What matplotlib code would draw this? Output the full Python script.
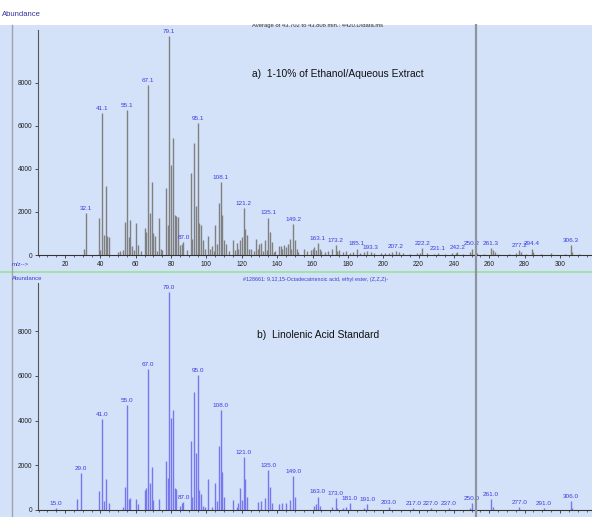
import matplotlib
matplotlib.use('Agg')
import matplotlib.pyplot as plt
from matplotlib.patches import Rectangle
from matplotlib.lines import Line2D
from matplotlib.ticker import MultipleLocator

plt.rcParams['font.family'] = ['Liberation Sans', 'DejaVu Sans']

W, H = 592, 517
BG, PEAK_A, PEAK_B, LAB = '#D4E2F9', '#808080', '#7878EC', '#3C3CE0'

# ---- panel a) extract spectrum: m/z and abundance ----
mz_a = [31, 32, 39, 40, 41, 42, 43, 44, 45, 50, 51, 53, 54, 55, 56, 57, 58, 59, 60, 61, 63,
        65, 66, 67, 68, 69, 70, 71, 72, 73, 74, 75, 77, 78, 79, 80, 81, 82, 83, 84, 85, 86, 87,
        89, 91, 92, 93, 94, 95, 96, 97, 98, 99, 101, 102, 103, 104, 105, 106, 107, 108, 109,
        110, 111, 113, 115, 116, 117, 118, 119, 120, 121, 122, 123, 124, 125, 127, 128, 129,
        130, 131, 132, 133, 134, 135, 136, 137, 138, 139, 141, 142, 143, 144, 145, 146, 147,
        148, 149, 150, 151, 152, 155, 157, 159, 160, 161, 162, 163, 164, 165, 167, 169, 171,
        173, 174, 175, 177, 179, 181, 183, 185, 187, 189, 191, 193, 195, 199, 201, 203, 205,
        207, 209, 211, 215, 219, 221, 222, 225, 229, 231, 235, 239, 241, 242, 245, 249, 250,
        253, 257, 261, 262, 263, 265, 271, 275, 277, 278, 281, 284, 285, 289, 295, 303, 306,
        307, 311]
ab_a = [300, 1950, 1700, 250, 6600, 930, 3200, 900, 850, 150, 200, 250, 1550, 6740, 850, 1630,
        400, 250, 1500, 450, 200, 1250, 1050, 7900, 1950, 3400, 1000, 900, 200, 1700, 300, 250,
        3100, 1400, 10200, 4200, 5450, 1850, 1800, 1750, 450, 500, 600, 250, 3800, 750, 5200,
        2300, 6150, 1500, 1400, 700, 300, 900, 300, 400, 200, 1400, 500, 2400, 3400, 1850, 700,
        500, 200, 700, 250, 550, 300, 700, 850, 2200, 1200, 950, 300, 300, 200, 750, 300, 500,
        550, 200, 700, 250, 1740, 1050, 600, 150, 200, 400, 400, 300, 450, 350, 500, 750, 300,
        1430, 700, 300, 150, 300, 200, 250, 300, 350, 250, 540, 300, 200, 150, 200, 300, 470,
        200, 250, 150, 200, 100, 150, 300, 100, 120, 200, 150, 100, 80, 100, 80, 120, 200, 150,
        80, 60, 80, 100, 330, 80, 60, 100, 60, 80, 100, 150, 60, 150, 300, 80, 60, 330, 250,
        150, 60, 60, 100, 230, 150, 60, 300, 150, 60, 80, 60, 460, 150, 60]
lab_a_mz = [32, 41, 55, 67, 79, 87, 95, 108, 121, 135, 149, 163, 173, 185, 193, 207, 222, 231,
            242, 250, 261, 277, 284, 306]
lab_a_txt = ['32.1', '41.1', '55.1', '67.1', '79.1', '87.0', '95.1', '108.1', '121.2', '135.1',
             '149.2', '163.1', '173.2', '185.1', '193.3', '207.2', '222.2', '231.1', '242.2',
             '250.2', '261.3', '277.2', '294.4', '306.3']

# ---- panel b) linolenic acid ethyl ester library spectrum ----
mz_b = [15, 27, 29, 39, 41, 42, 43, 45, 53, 54, 55, 56, 57, 60, 61, 65, 66, 67, 68, 69, 70, 73,
        77, 78, 79, 80, 81, 82, 83, 85, 86, 87, 91, 92, 93, 94, 95, 96, 97, 98, 99, 101, 103,
        105, 106, 107, 108, 109, 110, 115, 117, 118, 119, 120, 121, 122, 123, 129, 131, 133,
        135, 136, 137, 141, 143, 145, 147, 149, 150, 161, 162, 163, 164, 171, 173, 174, 177,
        179, 181, 189, 191, 203, 217, 227, 237, 249, 250, 261, 262, 277, 291, 306, 307]
ab_b = [100, 480, 1640, 870, 4050, 400, 1390, 330, 150, 1040, 4690, 500, 530, 500, 250, 890,
        1000, 6290, 1220, 1940, 450, 500, 2200, 1420, 9760, 4100, 4470, 970, 950, 200, 300, 350,
        3080, 600, 5290, 2530, 6030, 880, 700, 200, 150, 1370, 150, 1190, 400, 2860, 4470, 1710,
        600, 450, 150, 300, 970, 450, 2380, 1370, 600, 350, 400, 550, 1790, 1040, 300, 250, 300,
        300, 450, 1530, 600, 200, 250, 600, 200, 150, 520, 100, 100, 150, 300, 100, 270, 150,
        100, 80, 80, 100, 300, 490, 150, 150, 80, 420, 100]
lab_b_mz = [15, 29, 41, 55, 67, 79, 87, 95, 108, 121, 135, 149, 163, 173, 181, 191, 203, 217,
            227, 237, 250, 261, 277, 291, 306]
lab_b_txt = ['15.0', '29.0', '41.0', '55.0', '67.0', '79.0', '87.0', '95.0', '108.0', '121.0',
             '135.0', '149.0', '163.0', '173.0', '181.0', '191.0', '203.0', '217.0', '227.0',
             '237.0', '250.0', '261.0', '277.0', '291.0', '306.0']

XMIN, XMAX = 4.7, 318.1


def px(x0, y0, w, h):
    """axes rect from pixel box (top-left origin)"""
    return [x0 / W, 1 - (y0 + h) / H, w / W, h / H]


def style(ax, ymax):
    ax.set_facecolor('none')
    ax.set_xlim(XMIN, XMAX); ax.set_ylim(0, ymax)
    for s in ('top', 'right'):
        ax.spines[s].set_visible(False)
    ax.spines['left'].set_color('#555555'); ax.spines['bottom'].set_color('#333333')
    ax.spines['left'].set_linewidth(0.8); ax.spines['bottom'].set_linewidth(0.8)
    ax.xaxis.set_major_locator(MultipleLocator(20)); ax.xaxis.set_minor_locator(MultipleLocator(5))
    ax.set_yticks([0, 2000, 4000, 6000, 8000])
    ax.tick_params(axis='both', which='major', labelsize=4.8, length=2.5, width=0.6,
                   color='#333333', pad=1.5, labelcolor='#222222')
    ax.tick_params(axis='x', which='minor', length=1.5, width=0.5, color='#333333')


fig = plt.figure(figsize=(W / 100, H / 100), dpi=100)
fig.patch.set_facecolor('white')
fig.patches.append(Rectangle((0, 0), 1, 1 - 25 / H, transform=fig.transFigure,
                             facecolor=BG, edgecolor='none', zorder=-5))

ax1 = fig.add_axes(px(38, 30, 554, 225))
style(ax1, 10460)
ax1.vlines(mz_a, 0, ab_a, colors=PEAK_A, lw=1.0)
for m, t in zip(lab_a_mz, lab_a_txt):
    ax1.annotate(t, (m, ab_a[mz_a.index(m)]), xytext=(0, 1.5), textcoords='offset points',
                 ha='center', va='bottom', fontsize=4.6, color=LAB)
ax1.text(0.387, 0.805, 'a)  1-10% of Ethanol/Aqueous Extract', transform=ax1.transAxes,
         fontsize=7.4, color='#111111', va='center', ha='left')

ax2 = fig.add_axes(px(38, 283, 554, 227))
style(ax2, 10150)
ax2.tick_params(axis='x', labelbottom=False)
ax2.vlines(mz_b, 0, ab_b, colors=PEAK_B, lw=1.0)
for m, t in zip(lab_b_mz, lab_b_txt):
    ax2.annotate(t, (m, ab_b[mz_b.index(m)]), xytext=(0, 1.5), textcoords='offset points',
                 ha='center', va='bottom', fontsize=4.6, color=LAB)
ax2.text(0.396, 0.77, 'b)  Linolenic Acid Standard', transform=ax2.transAxes,
         fontsize=7.4, color='#111111', va='center', ha='left')

# window decorations
fig.text(318 / W, 1 - 26 / H, 'Average of 43.702 to 43.808 min.: 4420.D\\data.ms',
         fontsize=4.2, color='#333333', ha='center', va='center', zorder=3)
fig.patches.append(Rectangle((0, 1 - 24 / H), 1, 24 / H, transform=fig.transFigure,
                             facecolor='white', edgecolor='none', zorder=6))
fig.text(2 / W, 1 - 14 / H, 'Abundance', fontsize=5.5, color='#34349C', ha='left',
         va='center', zorder=7)
fig.text(12 / W, 1 - 265 / H, 'm/z-->', fontsize=4.3, color='#3C3CD0', ha='left', va='center')
fig.text(12 / W, 1 - 278 / H, 'Abundance', fontsize=4.3, color='#3C3CD0', ha='left', va='center')
fig.text(316 / W, 1 - 279 / H, '#128661: 9,12,15-Octadecatrienoic acid, ethyl ester, (Z,Z,Z)-',
         fontsize=3.9, color='#3C3CD0', ha='center', va='center')
fig.lines.append(Line2D([0, 1], [1 - 272 / H] * 2, transform=fig.transFigure,
                        color='#9BE09B', lw=1.2, zorder=2))
fig.lines.append(Line2D([12 / W] * 2, [0, 1 - 25 / H], transform=fig.transFigure,
                        color='#9EA3AA', lw=1.0, zorder=2))
fig.lines.append(Line2D([476 / W] * 2, [0, 1 - 25 / H], transform=fig.transFigure,
                        color='#8E949C', lw=1.6, zorder=4))

fig.savefig('out.png', dpi=100)
